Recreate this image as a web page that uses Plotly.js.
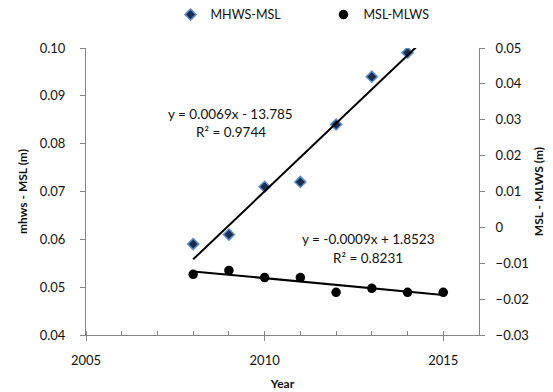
<!DOCTYPE html>
<html><head><meta charset="utf-8">
<script src="https://cdn.plot.ly/plotly-3.0.1.min.js"></script>
<style>html,body{margin:0;padding:0;background:#fff}#chart{width:553px;height:392px}</style>
</head><body><div id="chart"></div>
<script>
const yearsMHWS = [2008, 2009, 2010, 2011, 2012, 2013, 2014];
const mhwsMsl = [0.059, 0.061, 0.071, 0.072, 0.084, 0.094, 0.099];
const yearsMLWS = [2008, 2009, 2010, 2011, 2012, 2013, 2014, 2015];
const mslMlws = [-0.0131, -0.0120, -0.0140, -0.0140, -0.0181, -0.0170, -0.0181, -0.0181];
const eqMHWS = ['y = 0.0069x - 13.785', 'R² = 0.9744'];
const eqMLWS = ['y = -0.0009x + 1.8523', 'R² = 0.8231'];

function fit(x, y) {
  const n = x.length, mx = x.reduce((a,b)=>a+b,0)/n, my = y.reduce((a,b)=>a+b,0)/n;
  let sxy = 0, sxx = 0;
  for (let i = 0; i < n; i++) { sxy += (x[i]-mx)*(y[i]-my); sxx += (x[i]-mx)**2; }
  const m = sxy/sxx; return {m, b: my - m*mx};
}
const f1 = fit(yearsMHWS, mhwsMsl), f2 = fit(yearsMLWS, mslMlws);
const x0 = Math.min(...yearsMHWS, ...yearsMLWS), x1 = Math.max(...yearsMHWS, ...yearsMLWS);

const FONT = 'Lato, "Open Sans", sans-serif';
const data = [
  {x: yearsMHWS, y: mhwsMsl, type: 'scatter', mode: 'markers', name: 'MHWS-MSL', yaxis: 'y',
   marker: {symbol: 'diamond', size: 8.5, color: '#1c2c4c', line: {color: '#5b8fd0', width: 1.5}}},
  {x: yearsMLWS, y: mslMlws, type: 'scatter', mode: 'markers', name: 'MSL-MLWS', yaxis: 'y2',
   marker: {symbol: 'circle', size: 9.5, color: '#000'}},
  {x: [x0, x1], y: [f1.m*x0+f1.b, f1.m*x1+f1.b], type: 'scatter', mode: 'lines', yaxis: 'y',
   showlegend: false, line: {color: '#000', width: 2}, hoverinfo: 'skip'},
  {x: [x0, x1], y: [f2.m*x0+f2.b, f2.m*x1+f2.b], type: 'scatter', mode: 'lines', yaxis: 'y2',
   showlegend: false, line: {color: '#000', width: 2}, hoverinfo: 'skip'}
];
const axisCommon = {showgrid: false, zeroline: false, showline: true, linecolor: '#868686', linewidth: 1,
  ticks: 'outside', ticklen: 5, tickcolor: '#868686', tickfont: {family: FONT, size: 13, color: '#111'}};
const layout = {
  width: 553, height: 392,
  margin: {l: 86, r: 74, t: 48, b: 57, autoexpand: false},
  paper_bgcolor: '#fff', plot_bgcolor: '#fff',
  font: {family: FONT, color: '#111'},
  showlegend: true,
  legend: {orientation: 'h', x: 0.215, xanchor: 'left', y: 1.115, yanchor: 'middle',
    font: {family: FONT, size: 12.5, color: '#111'}, itemwidth: 30, entrywidth: 108, bgcolor: 'rgba(0,0,0,0)'},
  xaxis: Object.assign({}, axisCommon, {range: [2005, 2016], tick0: 2005, dtick: 5,
    minor: {dtick: 1, ticks: 'inside', ticklen: 4, tickcolor: '#868686', showgrid: false},
    ticklabelstandoff: 8,
    title: {text: 'Year', font: {family: FONT, size: 12, color: '#111', weight: 'bold'}, standoff: 13}}),
  yaxis: Object.assign({}, axisCommon, {range: [0.04, 0.10], dtick: 0.01, tickformat: '.2f',
    ticklabelstandoff: 12,
    title: {text: 'mhws - MSL (m)', font: {family: FONT, size: 12, color: '#111', weight: 'bold'}, standoff: 9}}),
  yaxis2: Object.assign({}, axisCommon, {overlaying: 'y', side: 'right', range: [-0.03, 0.05], dtick: 0.01,
    ticklabelstandoff: 8,
    title: {text: 'MSL - MLWS (m)', font: {family: FONT, size: 12, color: '#111', weight: 'bold'}, standoff: 6}}),
  annotations: [
    {xref: 'x', yref: 'y', x: 2009.05, y: 0.0863, text: eqMHWS[0], showarrow: false, font: {family: FONT, size: 13.5, color: '#111'}},
    {xref: 'x', yref: 'y', x: 2009.05, y: 0.0824, text: eqMHWS[1], showarrow: false, font: {family: FONT, size: 13.5, color: '#111'}},
    {xref: 'x', yref: 'y2', x: 2012.9, y: -0.0033, text: eqMLWS[0], showarrow: false, font: {family: FONT, size: 13.5, color: '#111'}},
    {xref: 'x', yref: 'y2', x: 2012.9, y: -0.0085, text: eqMLWS[1], showarrow: false, font: {family: FONT, size: 13.5, color: '#111'}}
  ]
};
Plotly.newPlot('chart', data, layout, {displayModeBar: false, staticPlot: true});
</script></body></html>
